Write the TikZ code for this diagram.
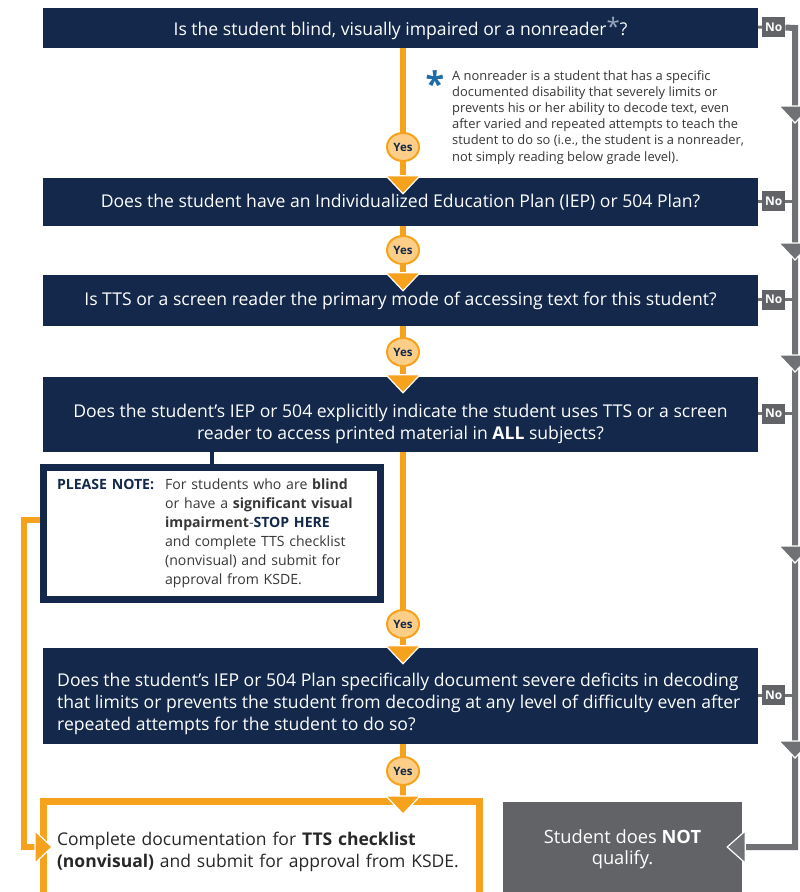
\documentclass[tikz,border=0pt]{standalone}
\usepackage{fontspec}
\setmainfont{Open Sans}
\usepackage{xcolor}
\usetikzlibrary{calc,shapes.geometric}
\definecolor{navy}{RGB}{19,40,75}
\definecolor{orng}{RGB}{247,162,28}
\definecolor{yesfill}{RGB}{253,206,135}
\definecolor{railgray}{RGB}{112,113,116}
\definecolor{boxgray}{RGB}{98,99,103}
\definecolor{txtgray}{RGB}{55,55,55}
\definecolor{starblue}{RGB}{28,108,168}
\definecolor{starlight}{RGB}{150,166,188}

\begin{document}
\begin{tikzpicture}[x=1pt,y=-1pt]
 	\tikzstyle{every node}+=[inner sep=0pt]
 	\tikzstyle{qbox}=[fill=navy, text=white, minimum width=715, align=center, font=\fontsize{17.6}{22}\selectfont]
 	\tikzstyle{qtext}=[text=white, font=\fontsize{17.6}{22}\selectfont]
 	\tikzstyle{yes}=[ellipse, draw=orng, line width=2, fill=yesfill, minimum width=32, minimum height=28, text=navy, font=\fontsize{11.5}{11.5}\selectfont\bfseries]
 	\tikzstyle{nobox}=[fill=boxgray, text=white, minimum width=23, minimum height=20, font=\fontsize{12}{12}\selectfont\bfseries]
 	\tikzstyle{orline}=[draw=orng, line width=6]
 	\tikzstyle{grline}=[draw=railgray, line width=6]
 	\tikzstyle{stub}=[draw=railgray, line width=3]
 	\tikzstyle{orhead}=[fill=orng, draw=white, line width=1.2]
 	\tikzstyle{grhead}=[fill=railgray, draw=white, line width=1.2]
 	\useasboundingbox (0,0) rectangle (800,892);
 	\clip (0,0) rectangle (800,892);
 	\fill [white] (0,0) rectangle (800,892);
 	% questions
 	\node [qbox, minimum height=40] (q1) at (400.5,28) {Is the student blind, visually impaired or a nonreader{\fontsize{24}{10}\selectfont\color{starlight}*}?};
 	\node [qbox, minimum height=48] (q2) at (400.5,202) {Does the student have an Individualized Education Plan (IEP) or 504 Plan?};
 	\node [qbox, minimum height=51] (q3) at (400.5,300.5) {Is TTS or a screen reader the primary mode of accessing text for this student?};
 	\node [qbox, minimum height=75] (q4) at (400.5,414.5) {};
 	\node [qtext, align=center] (q4t) at (400.5,424) {Does the student’s IEP or 504 explicitly indicate the student uses TTS or a screen\\reader to access printed material in \textbf{ALL} subjects?};
 	\node [qbox, minimum height=96] (q5) at (400.5,696) {};
 	\node [qtext, align=left, anchor=west] (q5t) at (57,704) {Does the student’s IEP or 504 Plan specifically document severe deficits in decoding\\that limits or prevents the student from decoding at any level of difficulty even after\\repeated attempts for the student to do so?};
 	% footnote
 	\node [text=starblue, font=\fontsize{34}{34}\selectfont\bfseries] (fnstar) at (435,84) {*};
 	\node [anchor=north west, align=left, text=txtgray, font=\fontsize{12.9}{16.2}\selectfont] (fn) at (452,70) {A nonreader is a student that has a specific\\documented disability that severely limits or\\prevents his or her ability to decode text, even\\after varied and repeated attempts to teach the\\student to do so (i.e., the student is a nonreader,\\not simply reading below grade level).};
 	% note box
 	\node [draw=navy, line width=7, fill=white, minimum width=337, minimum height=132, text width=310, align=left, text=txtgray, font=\fontsize{14.1}{19}\selectfont] (note) at (212,533) {\begin{tabular}{@{}l@{\hspace{11pt}}l@{}}
 	  \textcolor{navy}{\bfseries PLEASE NOTE:} & For students who are \textbf{blind}\\
 	  & or have a \textbf{significant visual}\\
 	  & \textbf{impairment}-\textcolor{navy}{\textbf{STOP HERE}}\\
 	  & and complete TTS checklist\\
 	  & (nonvisual) and submit for\\
 	  & approval from KSDE.
 	\end{tabular}};
 	\draw [navy, line width=4] (note.north) -- (note.north |- q4.south);
 	% outcomes
 	\node [draw=orng, line width=7, fill=white, minimum width=436, minimum height=100, text width=409, align=left, text=txtgray!70!black, font=\fontsize{17.5}{22}\selectfont] (done) at (261.5,851.5) {Complete documentation for \textbf{TTS checklist}\\\textbf{(nonvisual)} and submit for approval from KSDE.};
 	\node [fill=boxgray, text=white, minimum width=239, minimum height=94, align=center, font=\fontsize{18.3}{21}\selectfont] (nq) at (622.5,849) {Student does \textbf{NOT}\\qualify.};
 	% yes path
 	\node [yes] (y1) at (403,147) {Yes};
 	\node [yes] (y2) at (403,250) {Yes};
 	\node [yes] (y3) at (403,352) {Yes};
 	\node [yes] (y4) at (403,624) {Yes};
 	\node [yes] (y5) at (403,771) {Yes};
 	\draw [orline] (q1.south -| y1) -- (y1);
 	\draw [orline] (y1) -- (y1 |- q2.north);
 	\draw [orline] (q2.south -| y2) -- (y2);
 	\draw [orline] (y2) -- (y2 |- q3.north);
 	\draw [orline] (q3.south -| y3) -- (y3);
 	\draw [orline] (y3) -- (y3 |- q4.north);
 	\draw [orline] (q4.south -| y4) -- (y4);
 	\draw [orline] (y4) -- (y4 |- q5.north);
 	\draw [orline] (q5.south -| y5) -- (y5);
 	\draw [orline] (y5) -- (y5 |- done.north);
 	\foreach \b in {q2,q3,q4,q5,done}
 	  \filldraw [orhead] (y1 |- \b.north) ++(0,16) -- ++(-17,-18) -- ++(34,0) -- cycle;
 	\coordinate (lt) at (23.5,520);
 	\coordinate (lb) at (23.5,847);
 	\draw [orline] (note.west |- lt) -- (lt) -- (lb) -- (done.west |- lb);
 	\filldraw [orhead] (done.west |- lb) ++(12,0) -- ++(-17,-16) -- ++(0,32) -- cycle;
 	% no path
 	\foreach \i in {1,...,5}
 	  \path (q\i.east) ++(15.5,-1) node [nobox] (n\i) {No};
 	\coordinate (rtop) at (795,28);
 	\coordinate (rbot) at (795,847);
 	\foreach \i in {2,...,5}
 	  \draw [stub] (q\i.east |- n\i) -- (n\i) -- (n\i -| rtop);
 	\draw [stub] (q1) -- (n1);
 	\draw [grline] (n1) -- (rtop) -- (rbot) -- (nq.east |- rbot);
 	\foreach \t in {123,260,372,563,758}
 	  \filldraw [grhead] (795,\t) -- ++(-16,-17) -- ++(32,0) -- cycle;
 	\filldraw [grhead] (nq.east |- rbot) ++(-15,0) -- ++(18,-16) -- ++(0,32) -- cycle;
\end{tikzpicture}
\end{document}
